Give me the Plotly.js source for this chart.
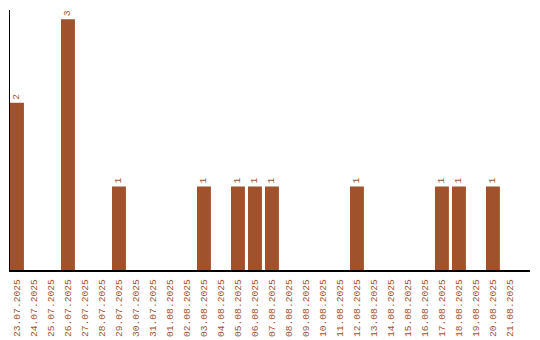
<!DOCTYPE html>
<html>
<head>
<meta charset="utf-8">
<script src="https://cdn.plot.ly/plotly-3.0.1.min.js"></script>
<style>
  html, body { margin: 0; padding: 0; background: #fff; }
  #chart { width: 540px; height: 340px; }
</style>
</head>
<body>
<div id="chart"></div>
<script>
// Daily counts, 23.07.2025 – 21.08.2025
const dates = [
  "23.07.2025", "24.07.2025", "25.07.2025", "26.07.2025", "27.07.2025",
  "28.07.2025", "29.07.2025", "30.07.2025", "31.07.2025", "01.08.2025",
  "02.08.2025", "03.08.2025", "04.08.2025", "05.08.2025", "06.08.2025",
  "07.08.2025", "08.08.2025", "09.08.2025", "10.08.2025", "11.08.2025",
  "12.08.2025", "13.08.2025", "14.08.2025", "15.08.2025", "16.08.2025",
  "17.08.2025", "18.08.2025", "19.08.2025", "20.08.2025", "21.08.2025"
];
const counts = [
  2, 0, 0, 3, 0,
  0, 1, 0, 0, 0,
  0, 1, 0, 1, 1,
  1, 0, 0, 0, 0,
  1, 0, 0, 0, 0,
  1, 1, 0, 1, 0
];

const barColor = "#a0522d";
const labelFont = { family: "Liberation Mono, DejaVu Sans Mono, monospace", size: 9.6, color: barColor };

// Only non-zero days carry a value label
const labels = counts.map(v => (v > 0 ? String(v) : ""));

const trace = {
  type: "bar",
  x: dates,
  y: counts,
  width: 0.82,
  marker: { color: barColor, line: { width: 0 } },
  text: labels,
  textposition: "outside",
  textangle: -90,
  textfont: labelFont,
  cliponaxis: false,
  hoverinfo: "x+y"
};

const layout = {
  width: 540,
  height: 340,
  margin: { l: 10, r: 10, t: 10, b: 70, pad: 0 },
  paper_bgcolor: "#ffffff",
  plot_bgcolor: "#ffffff",
  showlegend: false,
  bargap: 0.18,
  xaxis: {
    type: "category",
    range: [-0.41, 30.18],
    showline: true,
    linecolor: "#000000",
    linewidth: 1.5,
    showgrid: false,
    zeroline: false,
    ticks: "",
    tickangle: -90,
    ticklabelstandoff: 4,
    tickfont: labelFont,
    automargin: false,
    fixedrange: true
  },
  yaxis: {
    range: [0, 3.11],
    showline: true,
    linecolor: "#000000",
    linewidth: 1.5,
    showgrid: false,
    zeroline: false,
    showticklabels: false,
    ticks: "",
    automargin: false,
    fixedrange: true
  }
};

Plotly.newPlot("chart", [trace], layout, { staticPlot: true, displayModeBar: false });
</script>
</body>
</html>
